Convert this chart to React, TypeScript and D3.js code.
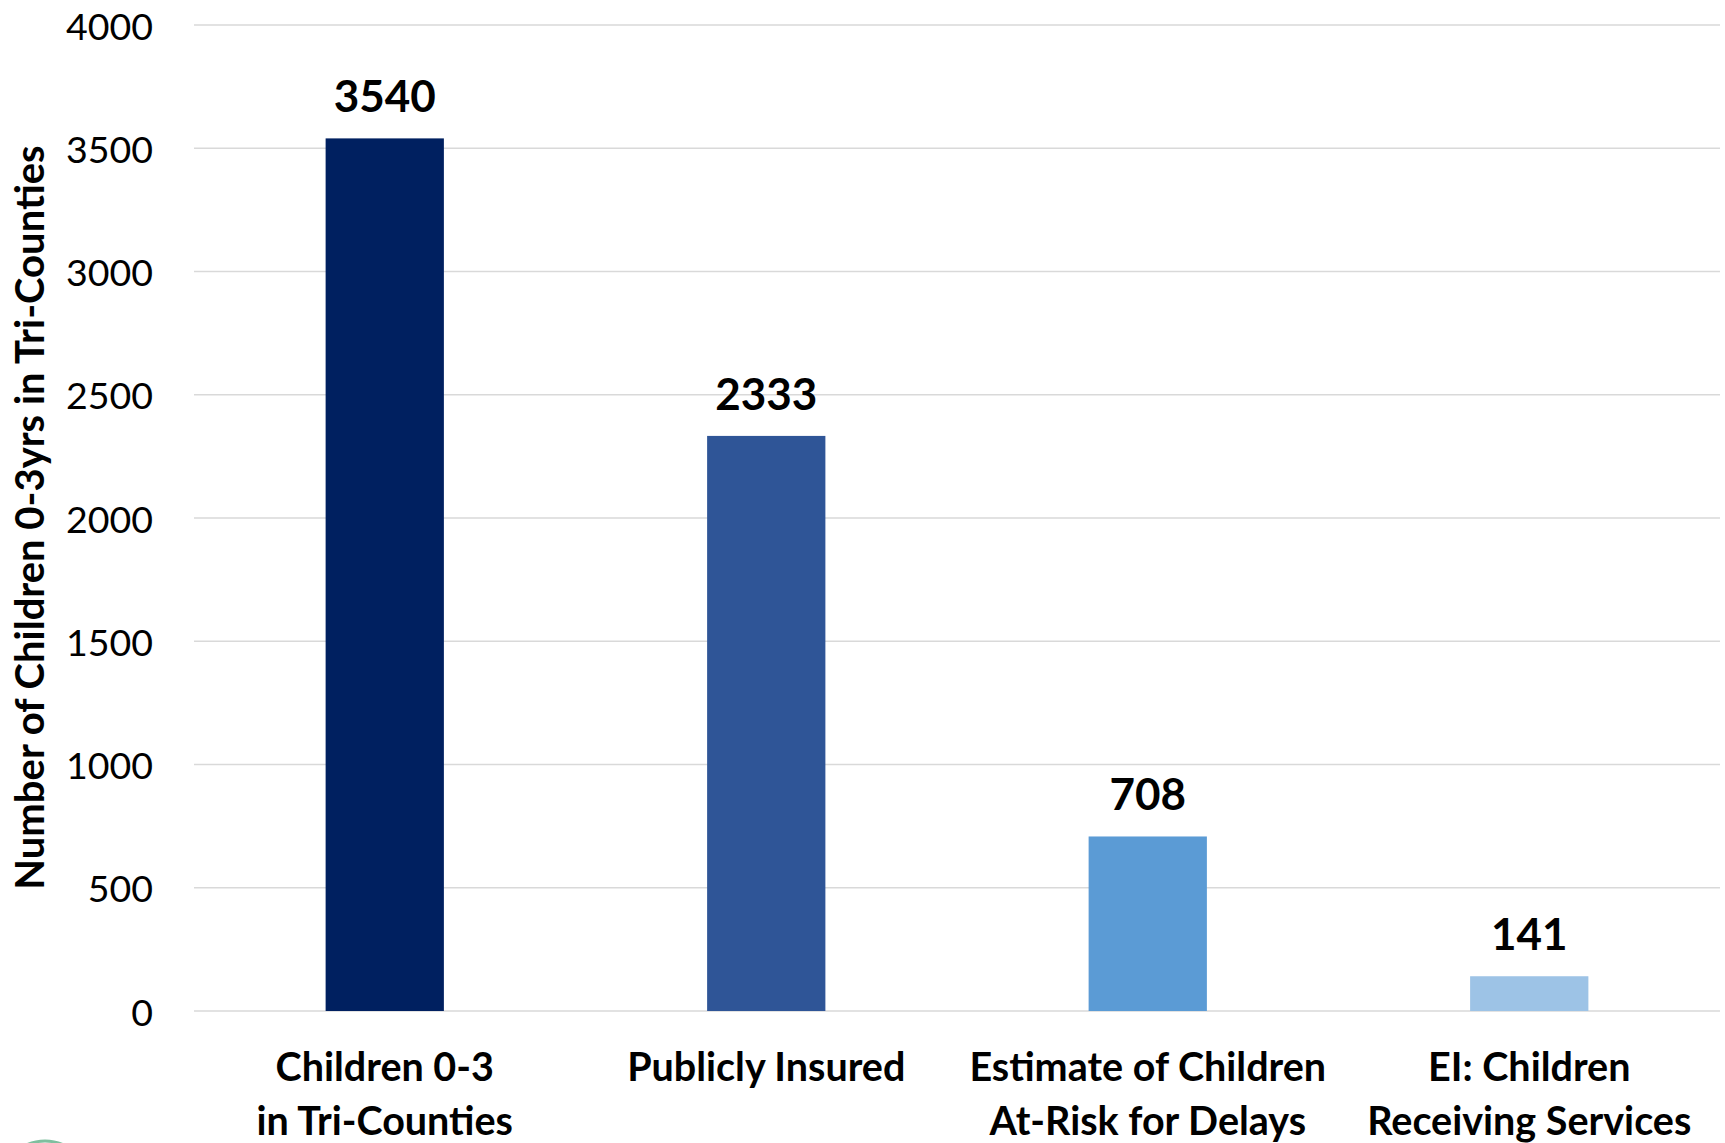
import React from "react";
import * as d3 from "d3";

const categories = [
  ["Children 0-3", "in Tri-Counties"],
  ["Publicly Insured"],
  ["Estimate of Children", "At-Risk for Delays"],
  ["EI: Children", "Receiving Services"],
];
const values = [3540, 2333, 708, 141];
const barColors = ["#002060", "#2F5597", "#5B9BD5", "#9DC3E6"];
const yTicks = [0, 500, 1000, 1500, 2000, 2500, 3000, 3500, 4000];
const yTitle = "Number of Children 0-3yrs in Tri-Counties";

const W = 1725;
const H = 1143;
const FONT = "Lato, 'Open Sans', sans-serif";

export default function App() {
  const left = 194;
  const right = 1720;
  const top = 25;
  const bottom = 1011;
  const x = d3
    .scaleBand<number>()
    .domain(d3.range(values.length))
    .range([left, right])
    .paddingInner(0.69)
    .paddingOuter(0.345);
  const y = d3.scaleLinear().domain([0, 4000]).range([bottom, top]);

  return (
    <svg
      width={W}
      height={H}
      style={{ position: "fixed", left: 0, top: 0, background: "#fff" }}
      fontFamily={FONT}
    >
      <rect x={0} y={0} width={W} height={H} fill="#fff" />
      {yTicks.map((t) => (
        <g key={t}>
          <line
            x1={left}
            x2={right}
            y1={y(t)}
            y2={y(t)}
            stroke="#D9D9D9"
            strokeWidth={1.5}
          />
          <text
            x={153}
            y={y(t)}
            textAnchor="end"
            dominantBaseline="central"
            fontSize={37.5}
            fill="#000"
          >
            {t}
          </text>
        </g>
      ))}
      {values.map((v, i) => (
        <g key={i}>
          <rect
            x={x(i)}
            y={y(v)}
            width={x.bandwidth()}
            height={y(0) - y(v)}
            fill={barColors[i]}
          />
          <text
            x={(x(i) as number) + x.bandwidth() / 2}
            y={y(v) - 26}
            textAnchor="middle"
            fontSize={44}
            fontWeight="bold"
            fill="#000"
          >
            {v}
          </text>
          {categories[i].map((line, j) => (
            <text
              key={j}
              x={(x(i) as number) + x.bandwidth() / 2}
              y={1081 + j * 54}
              textAnchor="middle"
              fontSize={39.5}
              fontWeight="bold"
              fill="#000"
            >
              {line}
            </text>
          ))}
        </g>
      ))}
      <text
        transform={`translate(44, ${(146 + 889) / 2}) rotate(-90)`}
        textAnchor="middle"
        fontSize={40}
        fontWeight="bold"
        fill="#000"
      >
        {yTitle}
      </text>
      <circle cx={45} cy={1185} r={44} fill="none" stroke="#7fbf9f" strokeWidth={3} />
    </svg>
  );
}
